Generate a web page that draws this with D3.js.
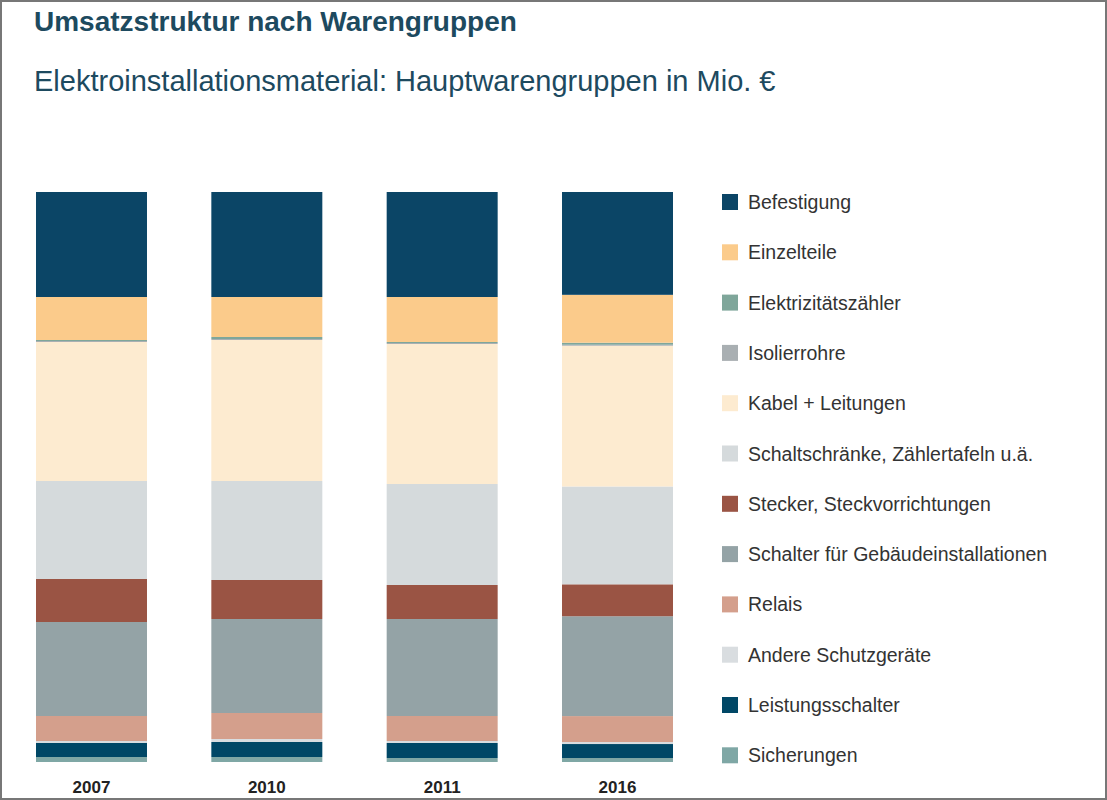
<!DOCTYPE html>
<html><head><meta charset="utf-8">
<script src="https://cdn.jsdelivr.net/npm/d3@7"></script>
<style>body{margin:0;background:#fff}svg{display:block}</style>
</head><body>
<script>
const years = ["2007","2010","2011","2016"];
const groups = ["Befestigung","Einzelteile","Elektrizitätszähler","Isolierrohre","Kabel + Leitungen","Schaltschränke, Zählertafeln u.ä.","Stecker, Steckvorrichtungen","Schalter für Gebäudeinstallationen","Relais","Andere Schutzgeräte","Leistungsschalter","Sicherungen"];
const colors = ["#0b4566","#fbcb8b","#7fa69a","#a9afb2","#fdebd0","#d5dadc","#9a5444","#94a3a6","#d49f8c","#d9dde0","#004766","#7fa7a5"];
// shares (relative units) per year, same order as groups
const v2007 = [105,43,1,1,139,98,43,94,25,2,14,5];
const v2010 = [105,40,2,1,141,99,39,94,26,3,15,5];
const v2011 = [105,45,1,1,140,101,34,97,25,2,15,4];
const v2016 = [103,48,2,1,141,98,32,100,26,2,14,4];
const values = [v2007,v2010,v2011,v2016];

const W=1107,H=800;
const svg=d3.select("body").append("svg").attr("width",W).attr("height",H);
svg.append("rect").attr("x",1).attr("y",1).attr("width",W-2).attr("height",H-2).attr("fill","none").attr("stroke","#777").attr("stroke-width",2);
svg.append("text").attr("x",34).attr("y",31).attr("font-family","Liberation Sans, Arial, sans-serif").attr("font-weight","bold").attr("font-size",28).attr("fill","#1d4a5f").text("Umsatzstruktur nach Warengruppen");
svg.append("text").attr("x",34).attr("y",91).attr("font-family","Liberation Sans, Arial, sans-serif").attr("font-size",29).attr("fill","#1d4a5f").text("Elektroinstallationsmaterial: Hauptwarengruppen in Mio. €");

const rows = years.map((y,i)=>{const o={year:y};groups.forEach((g,j)=>o[g]=values[i][j]);return o;});
const stack=d3.stack().keys(groups.slice().reverse()).offset(d3.stackOffsetExpand);
const series=stack(rows);
const x=d3.scaleBand().domain(years).range([36,673]).paddingInner(0.367).paddingOuter(0);
const y=d3.scaleLinear().domain([0,1]).range([762,192]);
const col=d3.scaleOrdinal().domain(groups).range(colors);
svg.append("g").selectAll("g").data(series).join("g").attr("fill",d=>col(d.key))
 .selectAll("rect").data(d=>d).join("rect")
 .attr("x",d=>x(d.data.year)).attr("width",x.bandwidth())
 .attr("y",d=>y(d[1])).attr("height",d=>Math.max(0,y(d[0])-y(d[1])));
svg.append("g").selectAll("text").data(years).join("text")
 .attr("x",d=>x(d)+x.bandwidth()/2).attr("y",793).attr("text-anchor","middle")
 .attr("font-family","Liberation Sans, Arial, sans-serif").attr("font-weight","bold").attr("font-size",17).attr("fill","#222").text(d=>d);
const lg=svg.append("g").selectAll("g").data(groups).join("g").attr("transform",(d,i)=>`translate(722,${194+i*50.3})`);
lg.append("rect").attr("width",16).attr("height",16).attr("fill",d=>col(d));
lg.append("text").attr("x",26).attr("y",15).attr("font-family","Liberation Sans, Arial, sans-serif").attr("font-size",19.5).attr("fill","#333").text(d=>d);
</script>
</body></html>
